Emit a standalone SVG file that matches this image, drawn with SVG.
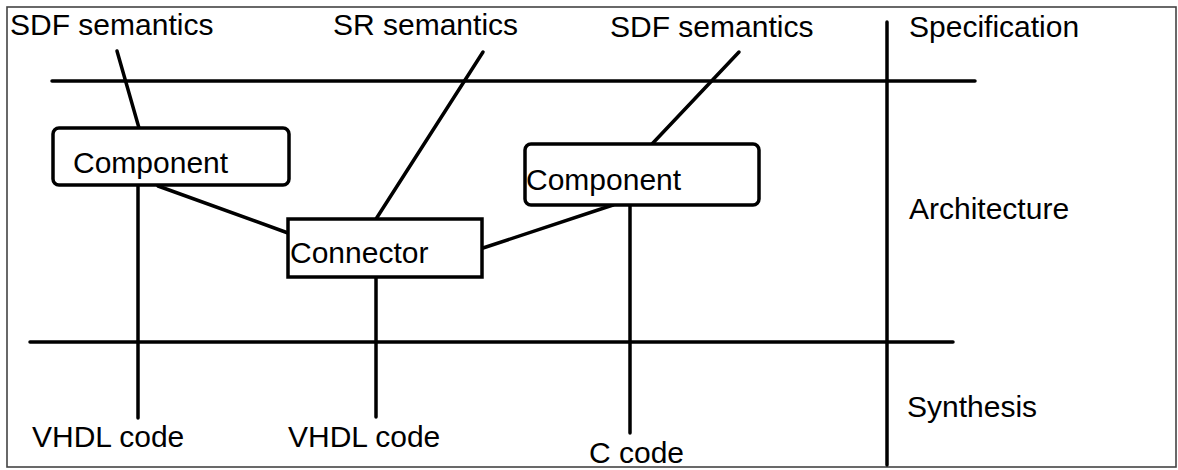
<svg xmlns="http://www.w3.org/2000/svg" width="1178" height="470" viewBox="0 0 1178 470">
<style>
text{font-family:"Liberation Sans",Arial,sans-serif;font-size:30px;fill:#000}
.ln{stroke:#000;stroke-width:3.5;fill:none;stroke-linecap:round}
.box{stroke:#000;stroke-width:3.5;fill:#fff}
</style>
<rect x="0" y="0" width="1178" height="470" fill="#fff"/>
<rect id="frame" x="7" y="7" width="1169" height="460" fill="none" stroke="#444" stroke-width="1.6"/>
<g id="connectors">
<line class="ln" x1="52" y1="81" x2="975" y2="81"/>
<line class="ln" x1="30" y1="342" x2="953" y2="342"/>
<line class="ln" x1="887" y1="22" x2="887" y2="465"/>
<line class="ln" x1="117" y1="51" x2="139" y2="128"/>
<line class="ln" x1="483" y1="52" x2="376" y2="219"/>
<line class="ln" x1="739" y1="52" x2="652" y2="144"/>
<line class="ln" x1="158" y1="186" x2="288" y2="233"/>
<line class="ln" x1="483" y1="248" x2="613" y2="205"/>
<line class="ln" x1="138" y1="185" x2="138" y2="418"/>
<line class="ln" x1="376" y1="277" x2="376" y2="417"/>
<line class="ln" x1="630" y1="205" x2="630" y2="433"/>
</g>
<g id="component1">
<rect class="box" x="53" y="128" width="236" height="57" rx="6"/>
<text x="73" y="173">Component</text>
</g>
<g id="connector">
<rect class="box" x="288" y="219" width="194" height="58"/>
<text x="290" y="263">Connector</text>
</g>
<g id="component2">
<rect class="box" x="525" y="144" width="234" height="61" rx="6"/>
<text x="526" y="190">Component</text>
</g>
<g id="labels">
<text x="10" y="35">SDF semantics</text>
<text x="333" y="35">SR semantics</text>
<text x="610" y="37">SDF semantics</text>
<text x="909" y="37">Specification</text>
<text x="909" y="219">Architecture</text>
<text x="907" y="417">Synthesis</text>
<text x="32" y="447">VHDL code</text>
<text x="288" y="447">VHDL code</text>
<text x="589" y="463">C code</text>
</g>
</svg>
